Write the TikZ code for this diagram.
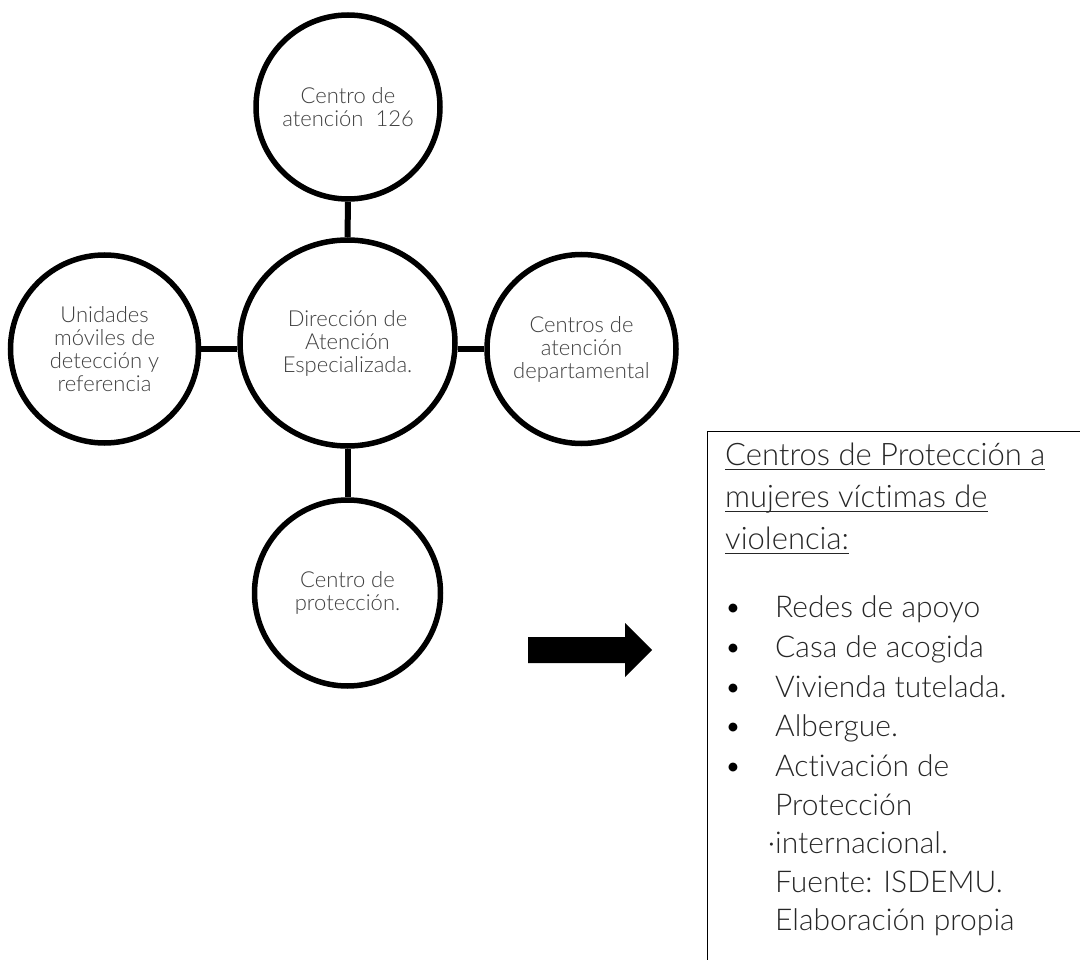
\documentclass[tikz,border=0pt]{standalone}
\usepackage{fontspec}
\setmainfont{Lato}[UprightFont=* Light, Ligatures=NoCommon]
\usetikzlibrary{shapes.geometric}
\definecolor{circtext}{HTML}{404040}
\definecolor{boxtext}{HTML}{262626}
\begin{document}
\begin{tikzpicture}[x=1pt,y=-1pt,
  circ/.style={draw=black, line width=5.5pt, circle, minimum size=#1, inner sep=0pt,
    align=center, text=circtext, font=\fontsize{22}{23}\selectfont},
  link/.style={line width=6pt},
  boxline/.style={anchor=base west, inner sep=0pt, text=boxtext, font=\fontsize{30}{33}\selectfont},
  titline/.style={boxline, font=\fontsize{31}{33}\selectfont},
  uline/.style={line width=1.6pt, draw=boxtext},
  bul/.style={anchor=base, inner sep=0pt, text=black, font=\fontsize{30}{33}\selectfont}
]
\clip (0,0) rectangle (1080,960);
\fill[white] (0,0) rectangle (1080,960);

% circles
\node[circ=184pt] (top) at (348,107) {Centro de\\atención\ \ 126};
\node[draw=black, line width=5.5pt, ellipse, minimum width=215pt, minimum height=206pt,
  inner sep=0pt, align=center, text=circtext, font=\fontsize{22}{23}\selectfont]
  (mid) at (347.5,343) {Dirección de\\Atención\\Especializada.};
\node[circ=188pt] (left) at (104.5,349) {Unidades\\móviles de\\detección y\\referencia};
\node[circ=189pt] (right) at (581.5,349) {Centros de\\atención\\departamental};
\node[circ=186pt] (bot) at (347.5,593) {Centro de\\protección.};

% connectors
\draw[link] (top.south) -- (mid.north);
\draw[link] (left.east) -- (mid.west |- left.east);
\draw[link] (mid.east |- right.west) -- (right.west);
\draw[link] (mid.south) -- (bot.north);

% block arrow
\fill[black] (528,637) -- (625,637) -- (625,623) -- (652,650) -- (625,677) -- (625,663) -- (528,663) -- cycle;

% box
\node[draw=black, line width=1pt, anchor=north west, minimum width=420pt, minimum height=600pt, inner sep=0pt] (box) at (707,431) {};

% title
\node[titline] (ti1) at (725,465) {Centros de Protección a};
\node[titline] (ti2) at (725,507) {mujeres vícti\kern0ptmas de};
\node[titline] (ti3) at (725,549) {violencia:};
\foreach \t in {ti1,ti2,ti3} {
  \draw[uline] ([yshift=-4.5pt]\t.base west) -- ([yshift=-4.5pt]\t.base east);
}

% list
\node[boxline] (it1) at (775,617) {Redes de apoyo};
\node[boxline] (it2) at (775,657) {Casa de acogida};
\node[boxline] (it3) at (775,697) {Vivienda tutelada.};
\node[boxline] (it4) at (775,736) {Albergue.};
\node[boxline] (it5) at (775,776) {Activación de};
\node[boxline] (it6) at (775,815) {Protección};
\node[boxline] (it7) at (775,853) {\llap{·}internacional.};
\node[boxline] (it8) at (775,892) {Fuente: ISDEMU.};
\node[boxline] (it9) at (775,930) {Elaboración propia};

\foreach \n in {1,...,5} {
  \node[bul] (b\n) at ([xshift=-42pt]it\n.base west) {•};
}
\end{tikzpicture}
\end{document}
